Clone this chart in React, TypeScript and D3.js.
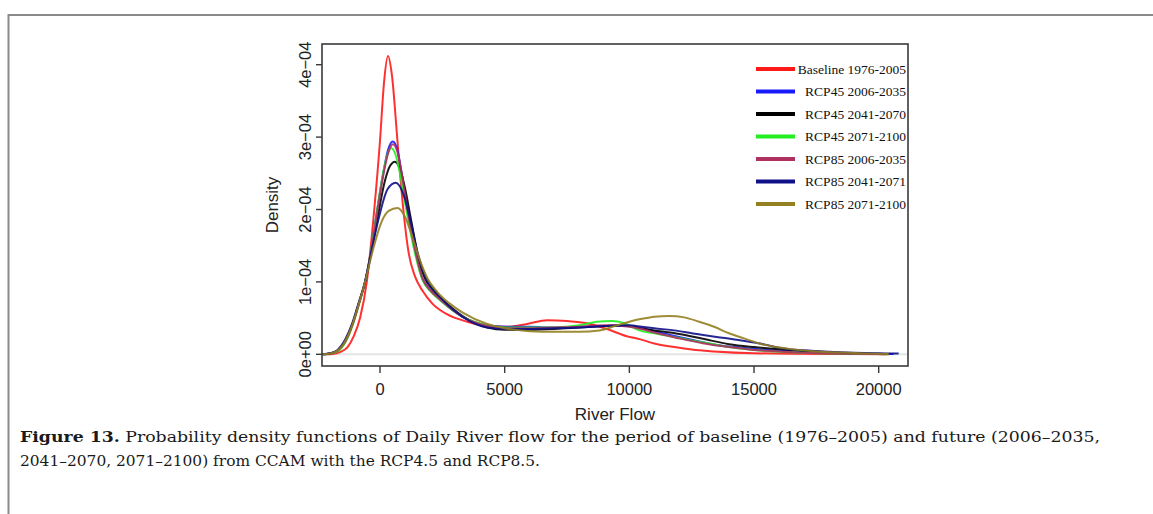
import * as d3 from 'd3'

// density curves: [river flow, density in 1e-4]
const baseline = [
  [-2200, 0], [-1900, 0.005], [-1600, 0.03], [-1300, 0.1], [-1050, 0.25], [-800, 0.5], [-530, 1.0],
  [-230, 2.0], [0, 2.95], [160, 3.75], [320, 4.12], [480, 3.85], [700, 2.95], [935, 2.0], [1150, 1.4],
  [1400, 1.08], [1700, 0.88], [2100, 0.7], [2700, 0.55], [3500, 0.45], [4300, 0.39], [5100, 0.38],
  [5900, 0.42], [6700, 0.47], [7500, 0.46], [8300, 0.43], [9100, 0.35], [9900, 0.25], [10400, 0.21],
  [11000, 0.15], [11800, 0.1], [12500, 0.065], [13400, 0.04], [15000, 0.015], [17000, 0.007],
  [19000, 0.004], [20300, 0.002]
]
const rcp45_2006 = [
  [-2300, 0], [-2000, 0.01], [-1700, 0.05], [-1400, 0.18], [-1100, 0.42], [-850, 0.7], [-600, 1.0],
  [-350, 1.45], [-110, 2.0], [130, 2.5], [320, 2.82], [510, 2.94], [700, 2.82], [870, 2.5], [1100, 2.0],
  [1400, 1.45], [1700, 1.05], [2000, 0.9], [2400, 0.76], [3300, 0.52], [4300, 0.4], [5000, 0.38],
  [6000, 0.38], [7000, 0.37], [8000, 0.38], [9000, 0.39], [10000, 0.39], [10500, 0.36], [11000, 0.32],
  [11600, 0.27], [12500, 0.2], [13500, 0.13], [14500, 0.09], [15500, 0.06], [16500, 0.04],
  [17500, 0.025], [18500, 0.015], [19500, 0.008], [20600, 0.003]
]
const rcp45_2041 = [
  [-2300, 0], [-2000, 0.012], [-1700, 0.05], [-1400, 0.18], [-1100, 0.42], [-850, 0.7], [-600, 1.0],
  [-350, 1.4], [-100, 1.88], [200, 2.4], [400, 2.6], [600, 2.66], [800, 2.56], [1000, 2.3], [1250, 1.85],
  [1550, 1.32], [1800, 1.05], [2100, 0.9], [2500, 0.76], [3300, 0.53], [4300, 0.37], [5000, 0.34],
  [6000, 0.34], [7000, 0.35], [8000, 0.37], [9000, 0.39], [9700, 0.4], [10400, 0.36], [11000, 0.33],
  [12000, 0.28], [13000, 0.21], [14000, 0.14], [15000, 0.1], [16000, 0.07], [17000, 0.045],
  [18000, 0.025], [19000, 0.012], [20400, 0.004]
]
const rcp45_2071 = [
  [-2300, 0], [-2000, 0.01], [-1700, 0.04], [-1400, 0.16], [-1100, 0.4], [-850, 0.68], [-600, 1.0],
  [-350, 1.45], [-120, 1.98], [150, 2.55], [300, 2.76], [440, 2.85], [620, 2.76], [800, 2.5], [1080, 1.95],
  [1400, 1.4], [1700, 1.03], [2000, 0.88], [2400, 0.75], [3300, 0.52], [4300, 0.4], [5000, 0.37],
  [6000, 0.37], [7000, 0.37], [8000, 0.4], [8700, 0.45], [9300, 0.46], [9800, 0.43], [10400, 0.33],
  [11000, 0.29], [11800, 0.24], [12500, 0.19], [13200, 0.15], [14000, 0.1], [15000, 0.06],
  [16000, 0.035], [17000, 0.02], [18000, 0.012], [19500, 0.005], [20400, 0.002]
]
const rcp85_2006 = [
  [-2300, 0], [-2000, 0.01], [-1700, 0.05], [-1400, 0.17], [-1100, 0.41], [-850, 0.69], [-600, 1.0],
  [-350, 1.43], [-110, 1.97], [130, 2.47], [330, 2.78], [520, 2.9], [710, 2.78], [880, 2.48], [1110, 1.98],
  [1410, 1.44], [1700, 1.05], [2000, 0.89], [2400, 0.76], [3300, 0.52], [4300, 0.39], [5000, 0.36],
  [6000, 0.36], [7000, 0.37], [8000, 0.38], [9000, 0.4], [10000, 0.38], [10500, 0.35], [11000, 0.3],
  [12000, 0.22], [13000, 0.15], [14000, 0.1], [15000, 0.06], [16000, 0.04], [17000, 0.02],
  [18000, 0.012], [19500, 0.005], [20400, 0.002]
]
const rcp85_2041 = [
  [-2300, 0], [-2000, 0.015], [-1700, 0.06], [-1400, 0.2], [-1100, 0.44], [-850, 0.72], [-600, 1.0],
  [-300, 1.5], [0, 1.95], [300, 2.28], [630, 2.37], [950, 2.2], [1250, 1.8], [1550, 1.35], [1850, 1.05],
  [2200, 0.88], [2600, 0.72], [3300, 0.52], [4300, 0.37], [5000, 0.35], [6000, 0.35], [7000, 0.36],
  [8000, 0.37], [9000, 0.39], [10000, 0.4], [10500, 0.38], [11000, 0.36], [12000, 0.32], [12500, 0.29],
  [13500, 0.24], [14500, 0.19], [15500, 0.13], [16000, 0.09], [17000, 0.055], [18000, 0.035],
  [19000, 0.022], [20000, 0.014], [20800, 0.01]
]
const rcp85_2071 = [
  [-2300, 0], [-2000, 0.012], [-1700, 0.05], [-1400, 0.18], [-1100, 0.42], [-850, 0.7], [-600, 1.0],
  [-300, 1.42], [50, 1.82], [350, 1.98], [700, 2.02], [1000, 1.9], [1300, 1.62], [1600, 1.3], [1900, 1.05],
  [2300, 0.86], [2800, 0.7], [3300, 0.58], [4300, 0.42], [5000, 0.36], [6000, 0.32], [7000, 0.31],
  [8000, 0.31], [8800, 0.33], [9500, 0.4], [10000, 0.45], [10500, 0.49], [11000, 0.52], [11600, 0.53],
  [12200, 0.51], [12800, 0.45], [13400, 0.38], [14000, 0.29], [14600, 0.22], [15200, 0.15],
  [16400, 0.075], [17500, 0.04], [18500, 0.025], [19500, 0.012], [20400, 0.005]
]

const seriesNames = [
  'Baseline 1976-2005', 'RCP45 2006-2035', 'RCP45 2041-2070', 'RCP45 2071-2100',
  'RCP85 2006-2035', 'RCP85 2041-2071', 'RCP85 2071-2100'
]
const seriesData = [baseline, rcp45_2006, rcp45_2041, rcp45_2071, rcp85_2006, rcp85_2041, rcp85_2071]
const seriesColors = ['#ff1a1a', '#1a1aff', '#000000', '#22ee22', '#b03060', '#101088', '#938020']

const xTicks = [0, 5000, 10000, 15000, 20000]
const yTicks = [0, 1e-4, 2e-4, 3e-4, 4e-4]
const yTickLabels = ['0e+00', '1e\u221204', '2e\u221204', '3e\u221204', '4e\u221204']

export default function App() {
  const left = 322, right = 908, top = 44, bottom = 366
  const x = d3.scaleLinear().domain([0, 20000]).range([380, 878.7])
  const y = d3.scaleLinear().domain([0, 4e-4]).range([354.3, 64.7])

  const line = d3.line<number[]>()
    .x(d => x(d[0]))
    .y(d => y(d[1] * 1e-4))
    .curve(d3.curveMonotoneX)

  const axisFont = '"Liberation Sans", Arial, sans-serif'
  const serif = '"Liberation Serif", "Times New Roman", serif'
  const captionFont = '"DejaVu Serif", serif'

  return (
    <svg width={1153} height={514} style={{ position: 'absolute', left: 0, top: 0 }}>
      <rect width={1153} height={514} fill="#fff" />
      {/* page frame */}
      <path d="M8.5,514 V15 H1153" fill="none" stroke="#8a8a8a" strokeWidth={2} />

      <defs>
        <clipPath id="plotClip">
          <rect x={left} y={top} width={right - left} height={bottom - top} />
        </clipPath>
      </defs>

      {/* zero line */}
      <line x1={left} x2={right} y1={y(0)} y2={y(0)} stroke="#e4e4e4" strokeWidth={2} />

      <g clipPath="url(#plotClip)">
        {seriesData.map((s, i) => (
          <path key={i} d={line(s) || ''} fill="none" stroke={seriesColors[i]} strokeWidth={2}
            strokeOpacity={0.9} strokeLinejoin="round" />
        ))}
      </g>

      {/* box */}
      <rect x={left} y={top} width={right - left} height={bottom - top} fill="none" stroke="#3a3a3a" strokeWidth={1.6} />

      {/* x axis */}
      {xTicks.map(t => (
        <g key={t}>
          <line x1={x(t)} x2={x(t)} y1={bottom} y2={bottom + 7} stroke="#3a3a3a" strokeWidth={1.4} />
          <text x={x(t)} y={394.5} textAnchor="middle" fontFamily={axisFont} fontSize={16.5} fill="#222">{t}</text>
        </g>
      ))}
      <text x={(left + right) / 2} y={420} textAnchor="middle" fontFamily={axisFont} fontSize={17} fill="#222">River Flow</text>

      {/* y axis */}
      {yTicks.map((t, i) => (
        <g key={i}>
          <line x1={left - 6} x2={left} y1={y(t)} y2={y(t)} stroke="#3a3a3a" strokeWidth={1.4} />
          <text transform={`translate(${311},${y(t)}) rotate(-90)`} textAnchor="middle" fontFamily={axisFont}
            fontSize={16.5} fill="#222">{yTickLabels[i]}</text>
        </g>
      ))}
      <text transform={`translate(${278},${(top + bottom) / 2}) rotate(-90)`} textAnchor="middle"
        fontFamily={axisFont} fontSize={17} fill="#222">Density</text>

      {/* legend */}
      {seriesNames.map((n, i) => {
        const ly = 69 + i * 22.5
        return (
          <g key={n}>
            <line x1={756} x2={795} y1={ly} y2={ly} stroke={seriesColors[i]} strokeWidth={4} />
            <text x={906} y={ly + 4.5} textAnchor="end" fontFamily={serif} fontSize={13.5} fill="#111">{n}</text>
          </g>
        )
      })}

      {/* caption */}
      <text x={20} y={442} fontFamily={captionFont} fontSize={15.5} fill="#1a1a1a" textLength={1080} lengthAdjust="spacingAndGlyphs">
        <tspan fontWeight="bold">Figure 13.</tspan>
        {' Probability density functions of Daily River flow for the period of baseline (1976\u20132005) and future (2006\u20132035,'}
      </text>
      <text x={20} y={466} fontFamily={captionFont} fontSize={15.5} fill="#1a1a1a" textLength={520} lengthAdjust="spacingAndGlyphs">
        2041{'\u2013'}2070, 2071{'\u2013'}2100) from CCAM with the RCP4.5 and RCP8.5.
      </text>
    </svg>
  )
}
